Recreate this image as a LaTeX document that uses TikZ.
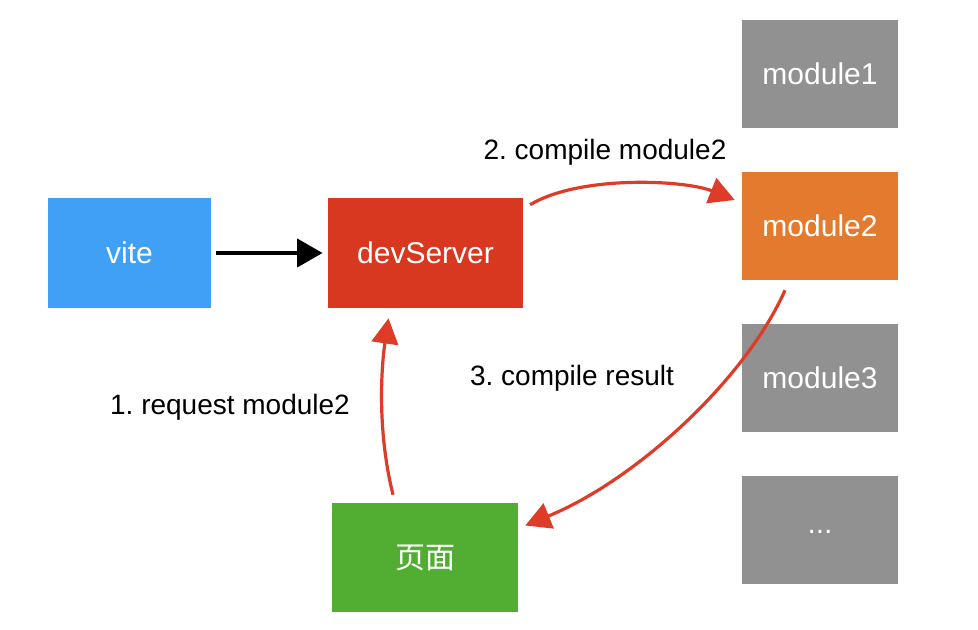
\documentclass[tikz,border=0pt]{standalone}
\usepackage{fontspec}
\setmainfont{Liberation Sans}
\newfontfamily\cjk{Noto Sans CJK SC}
\usetikzlibrary{arrows.meta}
\frenchspacing

\definecolor{viteblue}{RGB}{64,160,245}
\definecolor{serverred}{RGB}{217,56,32}
\definecolor{modorange}{RGB}{228,122,46}
\definecolor{modgray}{RGB}{145,145,145}
\definecolor{pagegreen}{RGB}{82,174,50}
\definecolor{flowred}{RGB}{222,60,40}

\begin{document}
\begin{tikzpicture}[x=0.75pt, y=-0.75pt,
		box/.style={inner sep=0pt, text=white, font=\fontsize{22.5}{26}\selectfont},
		modbox/.style={box, minimum width=117pt, minimum height=81pt},
		lbl/.style={font=\fontsize{21}{25}\selectfont, text=black},
		flow/.style={flowred, line width=2.4pt, -{Triangle[length=19pt, width=20pt]}}]
		
		\useasboundingbox (0,0) rectangle (978,630);
		
		%--- Main boxes ---
		\node[box, fill=viteblue, minimum width=122pt, minimum height=82.5pt] (vite) at (129.5,253) {vite};
		\node[box, fill=serverred, minimum width=146pt, minimum height=82.5pt] (dev) at (425.5,253) {devServer};
		\node[box, fill=pagegreen, minimum width=139.5pt, minimum height=81.75pt] (page) at (425,557.5) {\cjk 页面};
		
		%--- Module column ---
		\node[modbox, fill=modgray] (m1) at (820,74) {module1};
		\node[modbox, fill=modorange] (m2) at (820,226) {module2};
		\node[modbox, fill=modgray] (m3) at (820,378) {module3};
		\node[modbox, fill=modgray] (more) at (820,530) {\raisebox{-5pt}{...}};
		
		% vite starts the dev server
		\draw[black, line width=2.8pt, -{Triangle[length=19pt, width=21pt]}]
		([xshift=4pt]vite.east) -- ([xshift=-4pt]dev.west);
		
		% 1. page asks for a module
		\draw[flow]
		([shift={(-32,-8)}]page.north) .. controls +(-15,-60) and +(-8,55) .. ([shift={(-37,10)}]dev.south);
		
		% 2. server compiles it
		\draw[flow]
		([shift={(7,7)}]dev.north east) .. controls +(50,-30) and +(-50,-20) .. ([shift={(-7,-26)}]m2.west);
		
		% 3. result goes back to the page
		\draw[flow]
		([shift={(-35,10)}]m2.south) .. controls +(-40,90) and +(110,-45) .. ([shift={(7,-32)}]page.east);
		
		% Step labels
		\node[lbl] (l1) at (230,407) {1. request module2};
		\node[lbl] (l2) at (605,152) {2. compile module2};
		\node[lbl] (l3) at (572,378) {3. compile result};
		
	\end{tikzpicture}
\end{document}
